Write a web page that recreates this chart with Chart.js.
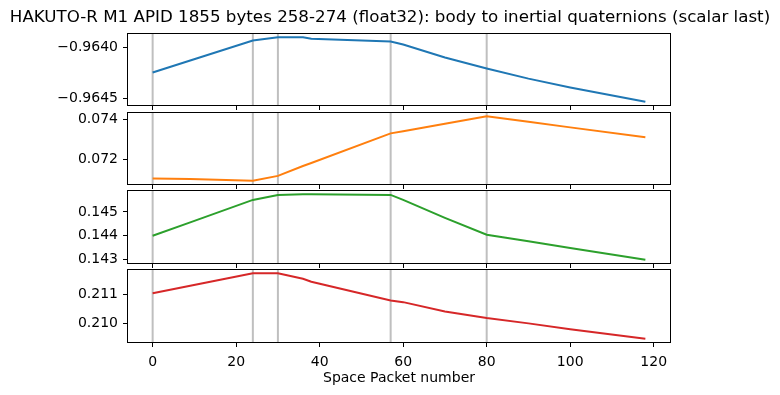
<!DOCTYPE html>
<html>
<head>
<meta charset="utf-8">
<script src="https://cdn.jsdelivr.net/npm/chart.js@4.4.0/dist/chart.umd.min.js"></script>
<style>
body { margin: 0; background: #fff; }
#wrap { position: relative; width: 780px; height: 395px; }
#wrap canvas { position: absolute; left: 0; top: 0; }
</style>
</head>
<body>
<div id="wrap">
<canvas id="q0" width="780" height="395"></canvas>
<canvas id="q1" width="780" height="395"></canvas>
<canvas id="q2" width="780" height="395"></canvas>
<canvas id="q3" width="780" height="395"></canvas>
</div>
<script>
const packets = [0, 9, 24, 30, 36, 38, 57, 60, 70, 80, 90, 100, 118]
const qx = [-0.964245, -0.964130, -0.963936, -0.963904, -0.963905, -0.963918, -0.963946, -0.963975, -0.964100, -0.964207, -0.964305, -0.964390, -0.964529]
const qy = [0.071057, 0.071025, 0.070940, 0.071186, 0.071680, 0.071830, 0.073320, 0.073430, 0.073800, 0.074180, 0.073900, 0.073620, 0.073122]
const qz = [0.144000, 0.144560, 0.145500, 0.145708, 0.145735, 0.145735, 0.145708, 0.145500, 0.144750, 0.144042, 0.143768, 0.143494, 0.143000]
const qw = [0.211045, 0.211300, 0.211734, 0.211734, 0.211545, 0.211440, 0.210793, 0.210735, 0.210410, 0.210183, 0.210000, 0.209795, 0.209469]

const eventPackets = [0, 24, 30, 57, 80]
const xTicks = [0, 20, 40, 60, 80, 100, 120]
const yTicks = [[-0.9645, -0.9640], [0.072, 0.074], [0.143, 0.144, 0.145], [0.210, 0.211]]
const yDecimals = [4, 3, 3, 3]
const colors = ['#1f77b4', '#ff7f0e', '#2ca02c', '#d62728']
const title = 'HAKUTO-R M1 APID 1855 bytes 258-274 (float32): body to inertial quaternions (scalar last)'
const xLabel = 'Space Packet number'

const series = [qx, qy, qz, qw]
const panelTops = [34, 113, 191, 270]
const panelBottoms = [105, 184, 263, 342]

Chart.defaults.font.family = 'DejaVu Sans'
Chart.defaults.font.size = 14
Chart.defaults.color = '#000'

function padRange(vals) {
    const lo = Math.min(...vals)
    const hi = Math.max(...vals)
    const m = (hi - lo) * 0.05
    return [lo - m, hi + m]
}

// matplotlib-ish frame round the axes
const frame = {
    id: 'frame',
    afterDraw(chart) {
        const { ctx, chartArea } = chart
        ctx.save()
        ctx.strokeStyle = '#000'
        ctx.lineWidth = 1
        ctx.strokeRect(Math.round(chartArea.left) - 0.5, Math.round(chartArea.top) - 0.5,
            Math.round(chartArea.right - chartArea.left) + 1, Math.round(chartArea.bottom - chartArea.top) + 1)
        ctx.restore()
    }
}

const eventLines = {
    id: 'eventLines',
    beforeDatasetsDraw(chart) {
        const { ctx, chartArea, scales } = chart
        ctx.save()
        ctx.strokeStyle = 'rgba(128,128,128,0.5)'
        ctx.lineWidth = 2
        for (const p of eventPackets) {
            const x = scales.x.getPixelForValue(p)
            ctx.beginPath()
            ctx.moveTo(x, chartArea.top)
            ctx.lineTo(x, chartArea.bottom)
            ctx.stroke()
        }
        ctx.restore()
    }
}

// figure title, centred on the whole figure like a suptitle
const titleText = {
    id: 'titleText',
    afterDraw(chart) {
        const { ctx } = chart
        ctx.save()
        ctx.font = '16.7px "DejaVu Sans"'
        ctx.fillStyle = '#000'
        ctx.textAlign = 'center'
        ctx.textBaseline = 'alphabetic'
        ctx.fillText(title, chart.width / 2, 22)
        ctx.restore()
    }
}

const xRange = padRange(packets)

series.forEach((vals, i) => {
    const last = i === series.length - 1
    const xh = last ? 45 : 6
    const bottomPad = last ? 8 : 395 - panelBottoms[i] - xh
    const yRange = padRange(vals)
    const plugins = [eventLines, frame]
    if (i === 0) plugins.push(titleText)

    new Chart(document.getElementById('q' + i), {
        type: 'line',
        data: {
            datasets: [{
                data: packets.map((p, k) => ({ x: p, y: vals[k] })),
                borderColor: colors[i],
                borderWidth: 2,
                pointRadius: 0,
                tension: 0,
                fill: false
            }]
        },
        options: {
            responsive: false,
            animation: false,
            devicePixelRatio: 1,
            layout: { padding: { left: 0, right: 110, top: panelTops[i], bottom: bottomPad } },
            plugins: { legend: { display: false }, tooltip: { enabled: false } },
            scales: {
                x: {
                    type: 'linear',
                    min: xRange[0],
                    max: xRange[1],
                    afterBuildTicks: s => { s.ticks = xTicks.map(v => ({ value: v })) },
                    afterFit: s => { s.height = xh },
                    grid: { drawOnChartArea: false, color: '#000', lineWidth: 1, tickLength: 5 },
                    border: { display: false },
                    ticks: { display: last, padding: 7, maxRotation: 0, callback: v => String(v) },
                    title: { display: last, text: xLabel, padding: 0, color: '#000' }
                },
                y: {
                    type: 'linear',
                    min: yRange[0],
                    max: yRange[1],
                    afterBuildTicks: s => { s.ticks = yTicks[i].map(v => ({ value: v })) },
                    afterFit: s => { s.width = 128 },
                    grid: { drawOnChartArea: false, color: '#000', lineWidth: 1, tickLength: 5 },
                    border: { display: false },
                    ticks: {
                        padding: 5,
                        callback: v => (v < 0 ? '\u2212' : '') + Math.abs(v).toFixed(yDecimals[i])
                    }
                }
            }
        },
        plugins
    })
})
</script>
</body>
</html>
